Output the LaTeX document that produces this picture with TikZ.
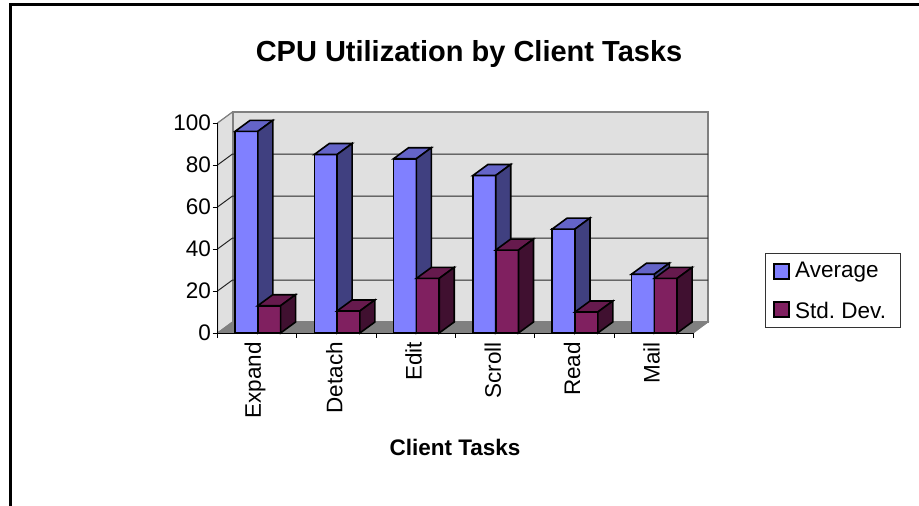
\documentclass[tikz,border=0pt]{standalone}
\usepackage{fontspec}
\setmainfont{Liberation Sans}
\frenchspacing
\definecolor{avgfront}{HTML}{8080FF}
\definecolor{avgtop}{HTML}{6464C8}
\definecolor{avgside}{HTML}{404080}
\definecolor{sdfront}{HTML}{802060}
\definecolor{sdtop}{HTML}{661A4D}
\definecolor{sdside}{HTML}{401030}
\definecolor{wallgray}{HTML}{E0E0E0}
\definecolor{floorgray}{HTML}{808080}
\definecolor{edgegray}{HTML}{808080}
\tikzset{
  barline/.style={draw=black,line width=1.6pt,line join=miter},
  gridline/.style={draw=black!85,line width=1pt},
  axisline/.style={draw=black,line width=1pt},
  ticklabel/.style={font=\fontsize{22.5}{26}\selectfont,inner sep=0pt},
  catlabel/.style={font=\fontsize{22.5}{26}\selectfont,inner sep=0pt,rotate=90,anchor=east},
  legendtext/.style={font=\fontsize{22.5}{26}\selectfont,inner sep=0pt,anchor=west},
  legendkey/.style={draw=black,line width=1.6pt},
}
% one 3-D column: #1 left x, #2 width, #3 value, #4 front, #5 top, #6 side colour
\newcommand\drawcuboid[6]{%
  \pgfmathsetmacro\bxl{#1}%
  \pgfmathsetmacro\bxr{#1+#2}%
  \pgfmathsetmacro\byt{333-2.1*#3}%
  \pgfmathsetmacro\bh{2.1*#3}%
  \filldraw[fill=#4,barline] (\bxl,333) rectangle (\bxr,\byt);
  \filldraw[fill=#5,barline] (\bxl,\byt) -- ++(15,-11) -- ++(#2,0) -- (\bxr,\byt) -- cycle;
  \filldraw[fill=#6,barline] (\bxr,333) -- (\bxr,\byt) -- ++(15,-11) -- ++(0,\bh) -- cycle;
}
\begin{document}
\begin{tikzpicture}[x=1pt,y=-1pt]
\useasboundingbox (0,0) rectangle (919,506);
\fill[white] (0,0) rectangle (919,506);

% outer frame (only the left and top sides fall inside the page)
\draw[line width=3pt,black] (10,520) -- (10,4) -- (930,4);

% title
\node[font=\bfseries\fontsize{29}{34}\selectfont,inner sep=0pt] (title) at (469,54) {CPU Utilization by Client Tasks};

% back wall
\filldraw[fill=wallgray,draw=edgegray,line width=2pt] (232.5,112) rectangle (708,322);
% left wall
\filldraw[fill=wallgray,draw=edgegray,line width=1pt] (217.5,333) -- (217.5,123) -- (232.5,112) -- (232.5,322) -- cycle;
% floor
\filldraw[fill=floorgray,draw=edgegray,line width=1pt] (217.5,333) -- (232.5,322) -- (708,322) -- (693.3,333) -- cycle;

% gridlines across the left and back walls
\foreach \v in {20,40,60,80} {
  \pgfmathsetmacro\gy{333-2.1*\v}
  \draw[gridline] (217.5,\gy) -- ++(15,-11) -- ++(475.5,0);
}
\draw[edgegray,line width=1pt] (217.5,123) -- (232.5,112);

% value axis with ticks and labels
\draw[axisline] (217.5,333) -- (217.5,123);
\foreach \v in {0,20,...,100} {
  \pgfmathsetmacro\ty{333-2.1*\v}
  \draw[axisline] (212.5,\ty) -- (217.5,\ty);
  \node[ticklabel,anchor=east] (ytick\v) at (211,\ty) {\v};
}

% category axis with ticks
\draw[axisline] (217.5,333) -- (693.3,333);
\foreach \i in {0,...,6} {
  \draw[axisline] ({217.5+79.3*\i},333) -- ({217.5+79.3*\i},338);
}

% columns and category labels
\foreach \i/\name/\avg/\sd in {0/Expand/96/13,1/Detach/85/10.5,2/Edit/83/26,3/Scroll/75/39.5,4/Read/49.5/10,5/Mail/28/26} {
  \pgfmathsetmacro\cx{217.5+79.3*\i}
  \drawcuboid{\cx+17.5}{22.8}{\avg}{avgfront}{avgtop}{avgside}
  \drawcuboid{\cx+40.3}{22.8}{\sd}{sdfront}{sdtop}{sdside}
  \node[catlabel] (cat\i) at (\cx+37.5,342) {\name};
}

% axis title
\node[font=\bfseries\fontsize{22.5}{26}\selectfont,inner sep=0pt] (xtitle) at (455,447) {Client Tasks};

% legend
\draw[black!80,line width=1pt] (765,253) rectangle (900,327);
\filldraw[fill=avgfront,legendkey] (774,264) rectangle (789,279);
\node[legendtext] (legavg) at (795,272) {Average};
\filldraw[fill=sdfront,legendkey] (774,302) rectangle (789,317);
\node[legendtext] (legsd) at (795,310) {Std. Dev.};
\end{tikzpicture}
\end{document}
